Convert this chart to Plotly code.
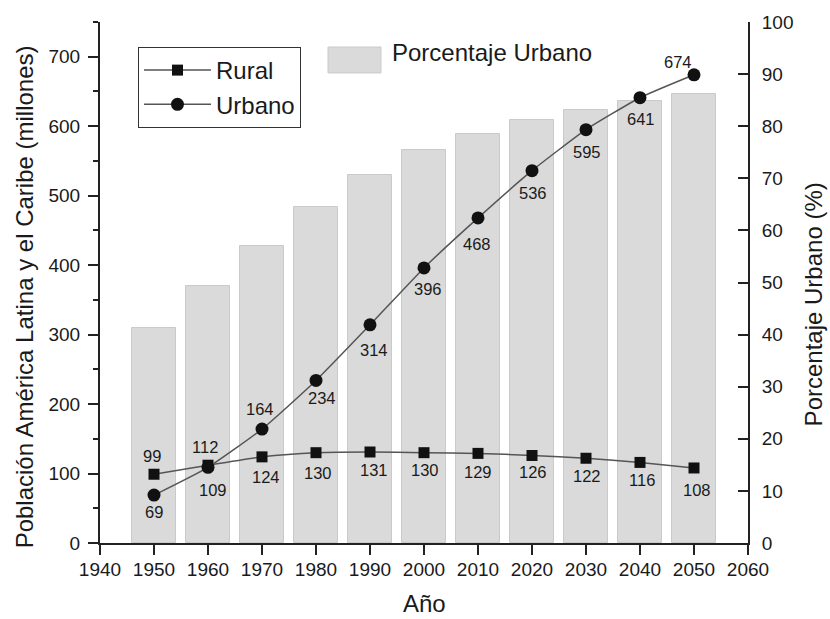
import plotly.graph_objects as go

# ---- data ----
years = [1950, 1960, 1970, 1980, 1990, 2000, 2010, 2020, 2030, 2040, 2050]
rural = [99, 112, 124, 130, 131, 130, 129, 126, 122, 116, 108]
urbano = [69, 109, 164, 234, 314, 396, 468, 536, 595, 641, 674]
pct_urbano = [41.3, 49.3, 57.1, 64.4, 70.6, 75.4, 78.5, 81.1, 83.1, 84.8, 86.2]

x_ticks = [1940, 1950, 1960, 1970, 1980, 1990, 2000, 2010, 2020, 2030, 2040, 2050, 2060]
left_ticks = [0, 100, 200, 300, 400, 500, 600, 700]
right_ticks = [0, 10, 20, 30, 40, 50, 60, 70, 80, 90, 100]

# label offsets (pixels) - style only
urb_dx = [0, 5, -2, 6, 4, 4, -1, 1, 1, 1, -16]
urb_dy = [-17, -23, 20, -18, -25, -21, -26, -22, -22, -21, 13]
rur_dx = [-2, -3, 4, 2, 4, 1, 0, 1, 1, 2, 3]
rur_dy = [18, 18, -20, -20, -18, -17, -19, -17, -18, -18, -22]

FONT = "Liberation Sans, Arial, sans-serif"
TXT = "#1a1a1a"
LINE = "#555555"

fig = go.Figure()

fig.add_trace(go.Bar(
    x=years, y=pct_urbano, width=8, name="Porcentaje Urbano",
    marker=dict(color="#dadada", line=dict(color="#cacaca", width=1)),
    yaxis="y", showlegend=False,
))

fig.add_trace(go.Scatter(
    x=years, y=rural, name="Rural", mode="lines+markers", yaxis="y2",
    line=dict(color=LINE, width=1.5, shape="spline", smoothing=0.5),
    marker=dict(symbol="square", size=11, color="#111111"),
))
fig.add_trace(go.Scatter(
    x=years, y=urbano, name="Urbano", mode="lines+markers", yaxis="y2",
    line=dict(color=LINE, width=1.5, shape="spline", smoothing=0.5),
    marker=dict(symbol="circle", size=13, color="#111111"),
))

annotations = []
for xv, yv, dx, dy in zip(years, urbano, urb_dx, urb_dy):
    annotations.append(dict(x=xv, y=yv, xref="x", yref="y2", text=str(yv),
                            showarrow=False, xshift=dx, yshift=dy,
                            font=dict(size=16.5, color=TXT, family=FONT)))
for xv, yv, dx, dy in zip(years, rural, rur_dx, rur_dy):
    annotations.append(dict(x=xv, y=yv, xref="x", yref="y2", text=str(yv),
                            showarrow=False, xshift=dx, yshift=dy,
                            font=dict(size=16.5, color=TXT, family=FONT)))

# axis titles
annotations.append(dict(x=0, y=0.4715, xref="paper", yref="paper", xshift=-76,
                        xanchor="center", yanchor="middle",
                        text="Población América Latina y el Caribe (millones)",
                        textangle=-90, showarrow=False,
                        font=dict(size=24, color=TXT, family=FONT)))
annotations.append(dict(x=1, y=0.458, xref="paper", yref="paper", xshift=65,
                        xanchor="center", yanchor="middle",
                        text="Porcentaje Urbano (%)", textangle=-90, showarrow=False,
                        font=dict(size=24, color=TXT, family=FONT)))
annotations.append(dict(x=0.5, y=0, xref="paper", yref="paper", yshift=-60,
                        xanchor="center", yanchor="middle",
                        text="Año", showarrow=False,
                        font=dict(size=24, color=TXT, family=FONT)))
# bar legend
annotations.append(dict(x=0.4475, y=0.9417, xref="paper", yref="paper",
                        xanchor="left", yanchor="middle", text="Porcentaje Urbano",
                        showarrow=False, font=dict(size=24, color=TXT, family=FONT)))

shapes = [dict(type="rect", xref="paper", yref="paper", x0=0.3519, x1=0.4336,
               y0=0.9022, y1=0.952, fillcolor="#dadada",
               line=dict(color="#cacaca", width=1), layer="above")]

fig.update_layout(
    width=830, height=619,
    margin=dict(l=100, r=82, t=22, b=76),
    paper_bgcolor="white", plot_bgcolor="white",
    font=dict(family=FONT, color=TXT, size=19),
    annotations=annotations, shapes=shapes,
    bargap=0,
    legend=dict(x=0.0586, y=0.952, xanchor="left", yanchor="top",
                bgcolor="white", bordercolor="#333333", borderwidth=1,
                font=dict(size=24, color=TXT, family=FONT),
                itemwidth=67, tracegroupgap=0),
    xaxis=dict(range=[1940, 2060], tickvals=x_ticks, ticks="outside", ticklen=10,
               tickwidth=2, tickcolor="#222", showline=True, linewidth=2,
               linecolor="#222", showgrid=False, zeroline=False,
               tickfont=dict(size=19), ticklabelstandoff=-2),
    yaxis=dict(range=[0, 100], tickvals=right_ticks, side="right", ticks="inside",
               ticklen=10, tickwidth=2, tickcolor="#222", showline=True,
               linewidth=2, linecolor="#222", showgrid=False, zeroline=False,
               tickfont=dict(size=19), ticklabelstandoff=8),
    yaxis2=dict(range=[0, 750], tickvals=left_ticks, side="left", overlaying="y",
                ticks="outside", ticklen=10, tickwidth=2, tickcolor="#222",
                showline=True, linewidth=2, linecolor="#222", showgrid=False,
                zeroline=False, tickfont=dict(size=19), ticklabelstandoff=4,
                minor=dict(dtick=50, ticks="outside", ticklen=5, tickwidth=2,
                           tickcolor="#222", showgrid=False)),
)

fig.write_html("out.html", config={"displayModeBar": False},
               post_script="document.body.style.margin='0';document.body.style.overflow='hidden';")
